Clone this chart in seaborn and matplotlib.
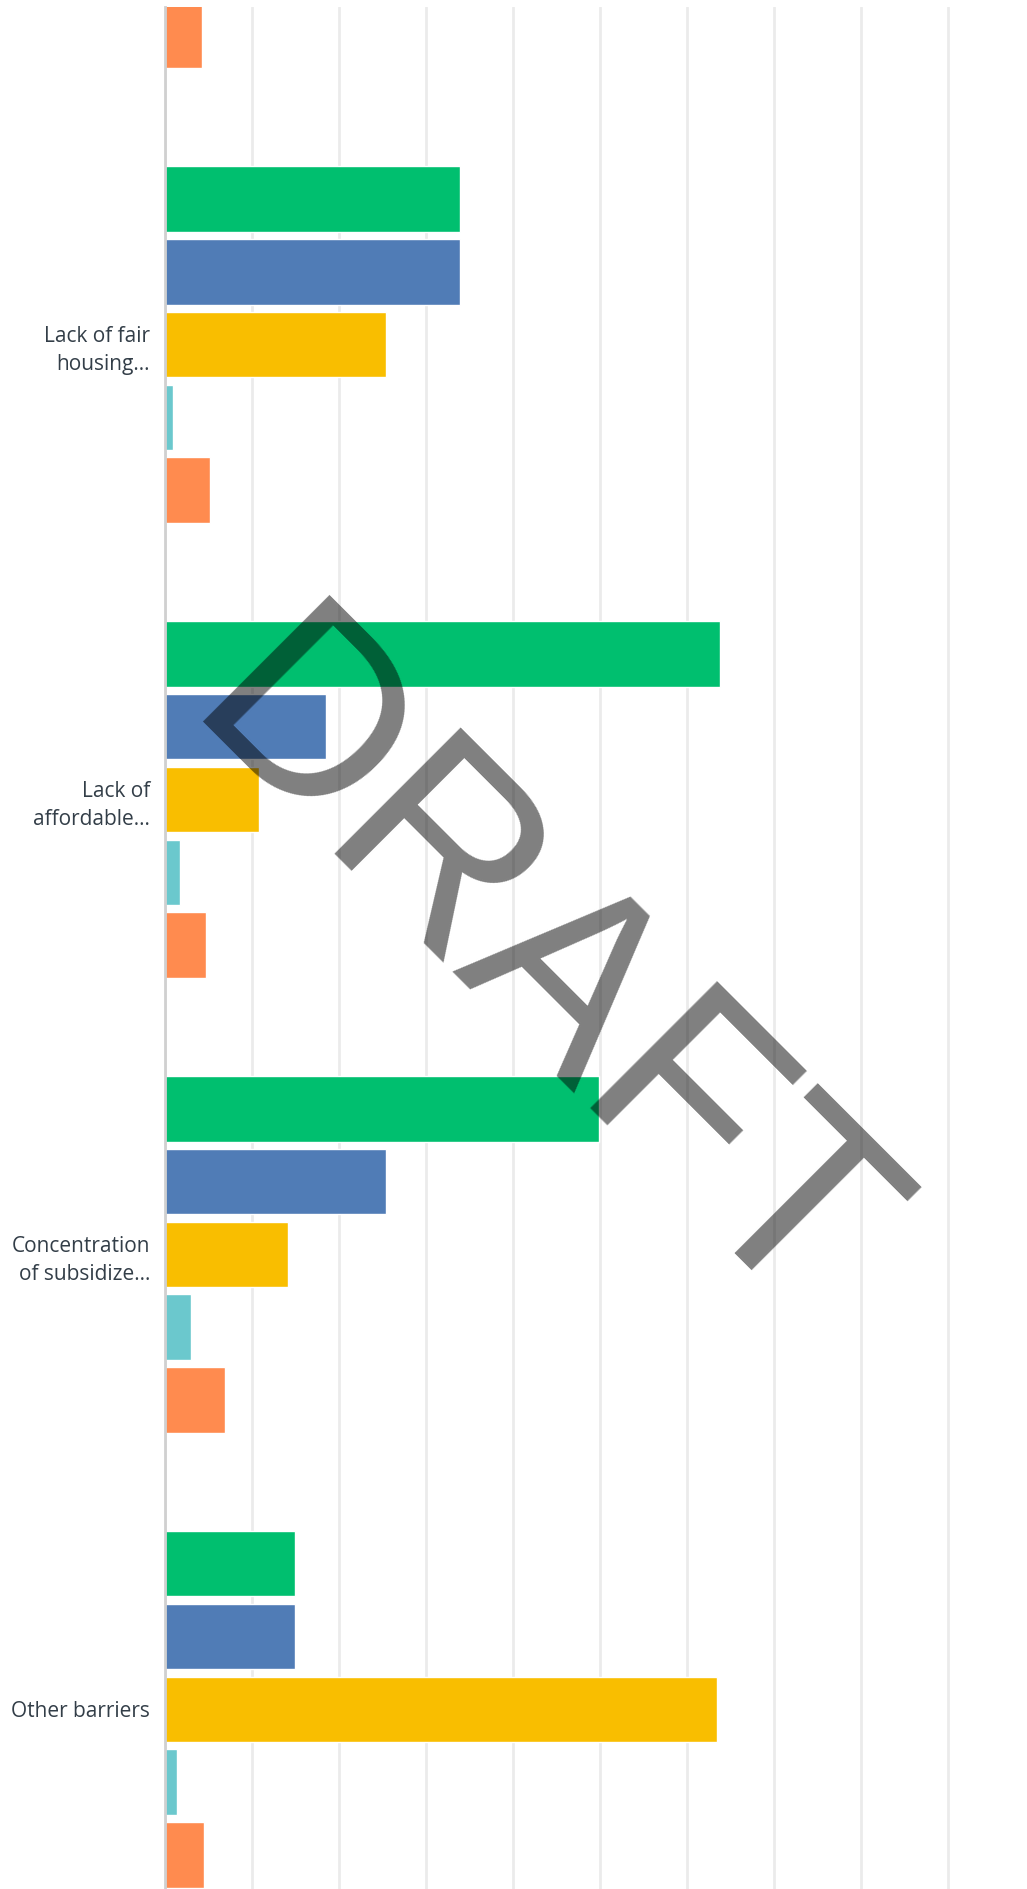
import matplotlib
matplotlib.use("Agg")
import matplotlib.pyplot as plt
import seaborn as sns
import pandas as pd

# Barrier categories (the first one only partly in view at the top)
categories = [
    "Housing discrimination",
    "Lack of fair\nhousing...",
    "Lack of\naffordable...",
    "Concentration\nof subsidize...",
    "Other barriers",
]
series = ["Very significant", "Significant", "Somewhat significant",
          "Not significant", "Don't know"]

# Percent of respondents per category for each response (None = not shown)
very_significant = [None, 33.96, 63.75, 49.89, 14.98]
significant = [None, 33.96, 18.50, 25.37, 14.98]
somewhat_significant = [None, 25.37, 10.80, 14.15, 63.47]
not_significant = [None, 0.92, 1.72, 2.95, 1.38]
dont_know = [4.25, 5.14, 4.73, 6.94, 4.48]

colors = ["#00BF6F", "#507CB6", "#F9BE00", "#6BC8CD", "#FF8B4F"]

rows = []
for name, vals in zip(series, [very_significant, significant,
                               somewhat_significant, not_significant,
                               dont_know]):
    for cat, v in zip(categories, vals):
        if v is not None:
            rows.append({"category": cat, "series": name, "pct": v})
df = pd.DataFrame(rows)

sns.set_style("white")
plt.rcParams["font.family"] = ["Open Sans", "DejaVu Sans"]

W, H = 1027, 1889
fig = plt.figure(figsize=(W / 100, H / 100), dpi=100)
ax = fig.add_axes([165 / W, 0, 1 - 165 / W, 1 - 7 / H])

sns.barplot(data=df, y="category", x="pct", hue="series",
            order=categories, hue_order=series,
            palette=dict(zip(series, colors)), orient="h",
            width=0.8, gap=0.1, saturation=1, errorbar=None,
            legend=False, ax=ax)

ax.set_xlim(0, (W - 165) / 8.7)
ax.set_ylim(4.395, 0.258)
ax.set_xticks(range(0, 100, 10))
ax.xaxis.grid(True, color="#ebebeb", linewidth=2)
ax.yaxis.grid(False)
ax.set_axisbelow(True)
ax.tick_params(axis="x", length=0, labelbottom=False)
ax.tick_params(axis="y", length=0, pad=10.8, labelsize=15.0,
               labelcolor="#333e48")
for lbl in ax.get_yticklabels():
    lbl.set_linespacing(1.42)
ax.set_xlabel("")
ax.set_ylabel("")
for side in ["top", "right", "bottom"]:
    ax.spines[side].set_visible(False)
ax.spines["left"].set_color("#d0d0d0")
ax.spines["left"].set_linewidth(2)

# Watermark across the chart
fig.text(0.474, 0.4565, "DRAFT", rotation=-45, rotation_mode="anchor",
         ha="center", va="baseline", fontsize=187,
         family="Liberation Sans", color="black", alpha=0.5, zorder=10)

fig.savefig("out.png", dpi=100)
